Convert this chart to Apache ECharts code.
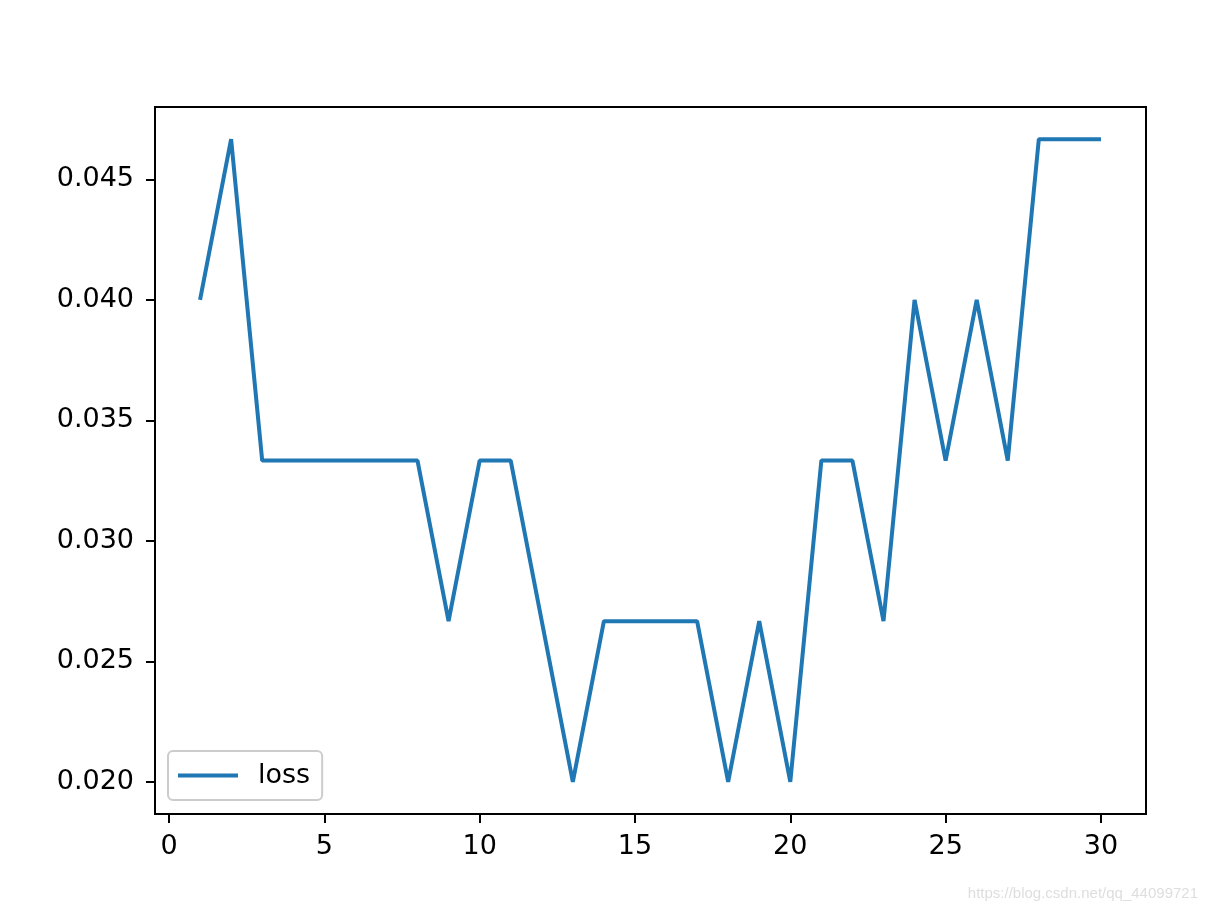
<!DOCTYPE html>
<html>
<head>
<meta charset="utf-8">
<script src="https://cdn.jsdelivr.net/npm/echarts@6/dist/echarts.min.js"></script>
<style>html,body{margin:0;padding:0;background:#fff}#c{width:1206px;height:916px}</style>
</head>
<body>
<div id="c"></div>
<script>
const epochs = [1,2,3,4,5,6,7,8,9,10,11,12,13,14,15,16,17,18,19,20,21,22,23,24,25,26,27,28,29,30];
const loss = [0.04,0.046667,0.033333,0.033333,0.033333,0.033333,0.033333,0.033333,0.026667,0.033333,
  0.033333,0.026667,0.02,0.026667,0.026667,0.026667,0.026667,0.02,0.026667,0.02,
  0.033333,0.033333,0.026667,0.04,0.033333,0.04,0.033333,0.046667,0.046667,0.046667];
const xTicks = [0,5,10,15,20,25,30];
const yTicks = [0.020,0.025,0.030,0.035,0.040,0.045];
const seriesName = 'loss';

const font = '"DejaVu Sans", sans-serif';
const chart = echarts.init(document.getElementById('c'));
chart.setOption({
  animation: false,
  backgroundColor: '#ffffff',
  grid: {left: 155, right: 60, top: 107, bottom: 102, show: true, borderColor: '#000', borderWidth: 2, backgroundColor: 'transparent'},
  xAxis: {
    type: 'value', min: -0.45, max: 31.45,
    splitLine: {show: false},
    axisLine: {show: true, onZero: false, lineStyle: {color: '#000', width: 2}},
    axisTick: {show: true, inside: false, customValues: xTicks, length: 9, lineStyle: {color: '#000', width: 2}},
    axisLabel: {customValues: xTicks, margin: 19, fontSize: 27, color: '#000', fontFamily: font}
  },
  yAxis: {
    type: 'value', min: 0.018667, max: 0.048,
    splitLine: {show: false},
    axisLine: {show: true, onZero: false, lineStyle: {color: '#000', width: 2}},
    axisTick: {show: true, inside: false, customValues: yTicks, length: 9, lineStyle: {color: '#000', width: 2}},
    axisLabel: {customValues: yTicks, margin: 21, fontSize: 27, color: '#000', fontFamily: font,
      padding: [5, 0, 0, 0],
      formatter: v => v.toFixed(3)}
  },
  legend: {
    show: true, left: 168, top: 751, orient: 'vertical',
    data: [{name: seriesName, icon: 'rect'}],
    itemWidth: 60, itemHeight: 4,
    padding: [11, 12, 11, 10],
    borderColor: '#cccccc', borderWidth: 2, borderRadius: 5,
    backgroundColor: 'rgba(255,255,255,0.8)',
    textStyle: {fontSize: 27, color: '#000', fontFamily: font, padding: [0, 0, 0, 15]}
  },
  series: [{
    name: seriesName, type: 'line',
    data: epochs.map((e, i) => [e, loss[i]]),
    symbol: 'none', showSymbol: false,
    lineStyle: {color: '#1f77b4', width: 4},
    itemStyle: {color: '#1f77b4'}
  }],
  graphic: [{
    type: 'text', right: 8, top: 886,
    style: {text: 'https://blog.csdn.net/qq_44099721', fill: '#dedede', font: '15px "Liberation Sans", Arial, sans-serif'}
  }]
});
</script>
</body>
</html>
